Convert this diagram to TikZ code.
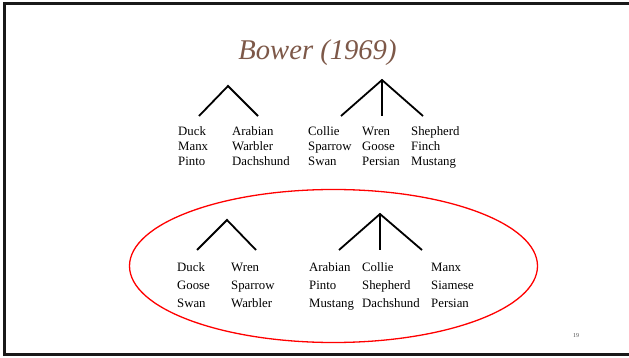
\documentclass[tikz,border=0pt]{standalone}
\usepackage{fontspec}
\setmainfont{Liberation Serif}
\usetikzlibrary{shapes.geometric}
\definecolor{titlebrown}{RGB}{125,88,72}
\begin{document}
\begin{tikzpicture}[x=1pt,y=-1pt,
  word/.style={anchor=base west, inner sep=0pt, font=\fontsize{12.8}{15}\selectfont},
  leg/.style={line width=1.8pt, black},
  frameline/.style={line width=3pt, black!90}]
\useasboundingbox (0,0) rectangle (629,358);
% frame
\coordinate (f1) at (629,3.5);
\coordinate (f2) at (4.5,3.5);
\coordinate (f3) at (4.5,354.5);
\coordinate (f4) at (629,354.5);
\draw[frameline] (f1) -- (f2) -- (f3) -- (f4);
% title
\node[anchor=base, inner sep=0pt, text=titlebrown, font=\fontsize{28.6}{30}\selectfont\itshape] (title) at (317.5,59.5) {Bower (1969)};
% upper words
\foreach \c/\x/\a/\b/\d in {1/178/Duck/Manx/Pinto, 2/232/Arabian/Warbler/Dachshund, 3/308/Collie/Sparrow/Swan, 4/362/Wren/Goose/Persian, 5/411/Shepherd/Finch/Mustang}{
  \node[word] (u\c a) at (\x,136) {\a};
  \node[word] (u\c b) at (\x,151) {\b};
  \node[word] (u\c c) at (\x,166) {\d};
}
% lower words
\foreach \c/\x/\a/\b/\d in {1/177/Duck/Goose/Swan, 2/231/Wren/Sparrow/Warbler, 3/309/Arabian/Pinto/Mustang, 4/362/Collie/Shepherd/Dachshund, 5/431/Manx/Siamese/Persian}{
  \node[word] (l\c a) at (\x,271.5) {\a};
  \node[word] (l\c b) at (\x,289.5) {\b};
  \node[word] (l\c c) at (\x,307.5) {\d};
}
% upper trees
\coordinate (uta) at (228,86);
\coordinate (utl) at (199,116);
\coordinate (utr) at (258,116);
\draw[leg] (utl) -- (uta) -- (utr);
\coordinate (uTa) at (382,80);
\coordinate (uTl) at (341,116);
\coordinate (uTm) at (382,116);
\coordinate (uTr) at (423,116);
\draw[leg] (uTl) -- (uTa) -- (uTr);
\draw[leg] (uTa) -- (uTm);
% lower trees
\coordinate (lta) at (227,220);
\coordinate (ltl) at (197,250);
\coordinate (ltr) at (256,250);
\draw[leg] (ltl) -- (lta) -- (ltr);
\coordinate (lTa) at (380,214);
\coordinate (lTl) at (339,250);
\coordinate (lTm) at (380,250);
\coordinate (lTr) at (422,250);
\draw[leg] (lTl) -- (lTa) -- (lTr);
\draw[leg] (lTa) -- (lTm);
% red ellipse
\node[ellipse, draw=red, line width=1.3pt, inner sep=0pt, minimum width=408pt, minimum height=153pt] (ring) at (333.5,266) {};
% page number
\node[anchor=base west, inner sep=0pt, text=black!70, font=\fontsize{6}{7}\selectfont] (pnum) at (573,337) {19};
\end{tikzpicture}
\end{document}
